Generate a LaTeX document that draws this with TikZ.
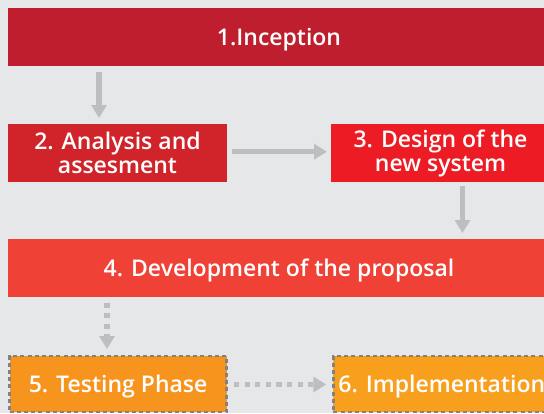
\documentclass[tikz,border=0pt]{standalone}
\usepackage{fontspec}
\IfFontExistsTF{Open Sans Semibold}{\setmainfont{Open Sans Semibold}[Ligatures=NoCommon]}{%
  \IfFontExistsTF{Open Sans SemiBold}{\setmainfont{Open Sans SemiBold}[Ligatures=NoCommon]}{%
    \setmainfont{Open Sans}[Ligatures=NoCommon,FakeBold=1.2]}}
\usetikzlibrary{arrows.meta,calc}
\definecolor{bgc}{HTML}{E6E7E8}
\definecolor{arrc}{HTML}{BCBEC0}
\definecolor{c1}{HTML}{BE1E2D}
\definecolor{c2}{HTML}{D1232A}
\definecolor{c3}{HTML}{ED1C24}
\definecolor{c4}{HTML}{EF4136}
\definecolor{c5}{HTML}{F7941D}
\definecolor{c6}{HTML}{F99F1E}
\definecolor{dashc}{HTML}{808285}
\begin{document}
\begin{tikzpicture}[x=1pt,y=-1pt,
  box/.style={anchor=north west,inner sep=0pt,outer sep=0pt,text=white,
    font=\fontsize{23}{24}\selectfont,align=center},
  oneline/.style={text height=16.4pt,text depth=0pt},
  dbox/.style={box,draw=dashc,line width=2.4pt,dash pattern=on 4pt off 3.2pt},
  arr/.style={draw=arrc,line width=5.2pt,-{Triangle[width=15pt,length=13pt]}},
  darr/.style={arr,dash pattern=on 5.2pt off 5.4pt}]
\useasboundingbox (0,0) rectangle (544,413);
\clip (0,0) rectangle (544,413);
\fill[bgc] (0,0) rectangle (544,413);
\node[box,oneline,fill=c1,minimum width=542pt,minimum height=58pt] (b1) at (8,8) {1.Inception};
\node[box,fill=c2,minimum width=219pt,minimum height=58pt] (b2) at (8,124) {2. Analysis and\\assesment};
\node[box,fill=c3,minimum width=219pt,minimum height=58pt] (b3) at (331,124) {3. Design of the\\new system};
\node[box,oneline,fill=c4,minimum width=542pt,minimum height=58pt] (b4) at (8,239) {4. Development of the proposal};
\node[dbox,oneline,fill=c5,minimum width=217pt,minimum height=56pt] (b5) at (9.6,356) {5. Testing Phase};
\node[dbox,oneline,fill=c6,minimum width=217pt,minimum height=56pt] (b6) at (333.3,356) {6. Implementation};
\draw[arr] ($(b1.south west)+(91,6)$) coordinate (s12) -- ($(s12 |- b2.north)+(0,-6)$);
\draw[arr] ($(b2.east)+(5,-1.3)$) coordinate (s23) -- ($(s23 -| b3.west)+(-4,0)$);
\draw[arr] ($(b3.south)+(22,4)$) coordinate (s34) -- ($(s34 |- b4.north)+(0,-6)$);
\draw[darr] ($(b4.south west)+(99,5.5)$) coordinate (s45) -- ($(s45 |- b5.north)+(0,-7)$);
\draw[darr] ($(b5.east)+(7.3,0.5)$) coordinate (s56) -- ($(s56 -| b6.west)+(-7,0)$);
\end{tikzpicture}
\end{document}
